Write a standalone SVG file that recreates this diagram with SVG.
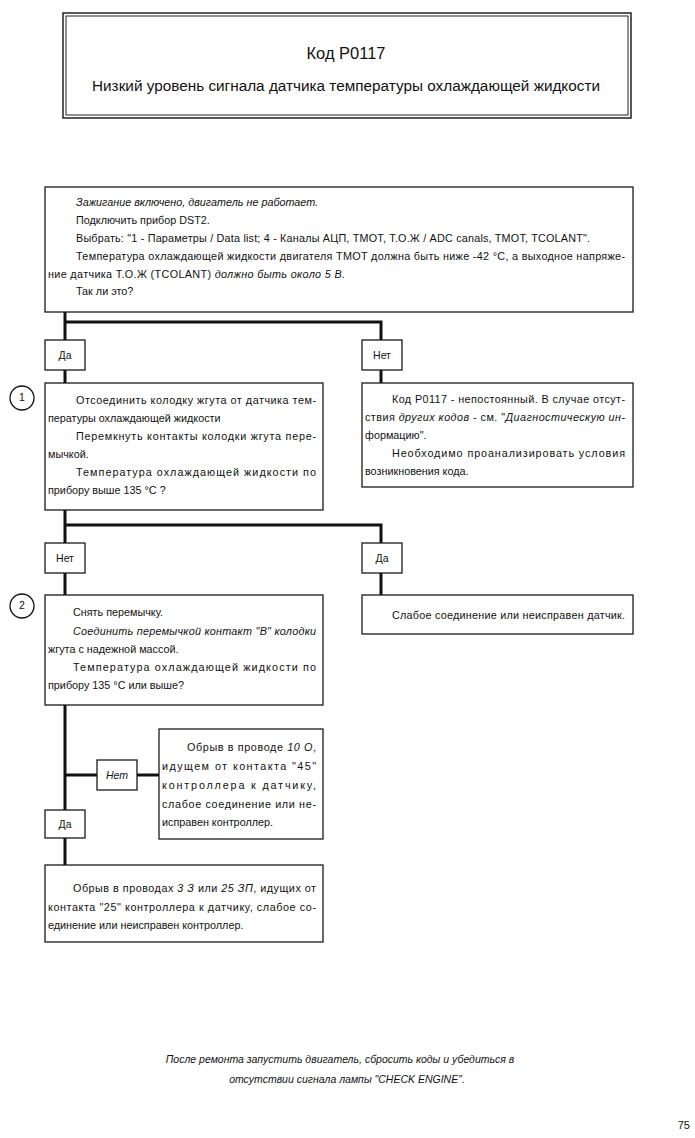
<svg xmlns="http://www.w3.org/2000/svg" width="695" height="1138" viewBox="0 0 695 1138">
<style>
.box{fill:#fff;stroke:#1a1a1a;stroke-width:1.3}
.conn{stroke:#111;stroke-width:3;fill:none}
.t{font-family:'Liberation Sans',Arial,sans-serif;font-size:10.8px;fill:#111}
.i{font-style:italic}
.lbl{font-family:'Liberation Sans',Arial,sans-serif;font-size:10.5px;fill:#111;text-anchor:middle}
.circ{fill:#fff;stroke:#111;stroke-width:1.3}
</style>
<rect width="695" height="1138" fill="#fff"/>
<g id="title">
<rect x="63" y="13" width="568" height="105" fill="#fff" stroke="#222" stroke-width="1.5"/>
<rect x="66" y="16" width="562" height="99" fill="none" stroke="#222" stroke-width="1"/>
<text x="346" y="59" text-anchor="middle" font-family="'Liberation Sans',Arial,sans-serif" font-size="17" fill="#111" textLength="79" lengthAdjust="spacingAndGlyphs">Код P0117</text>
<text x="346" y="91" text-anchor="middle" font-family="'Liberation Sans',Arial,sans-serif" font-size="14" fill="#111" textLength="508" lengthAdjust="spacingAndGlyphs">Низкий уровень сигнала датчика температуры охлаждающей жидкости</text>
</g>
<g id="connectors">
<polyline class="conn" points="65,312 65,340"/>
<polyline class="conn" points="65,322 381,322 381,340"/>
<polyline class="conn" points="65,370 65,383"/>
<polyline class="conn" points="381,370 381,383"/>
<polyline class="conn" points="65,510 65,543"/>
<polyline class="conn" points="65,525 381,525 381,543"/>
<polyline class="conn" points="65,573 65,595"/>
<polyline class="conn" points="381,573 381,595"/>
<polyline class="conn" points="65,705 65,810"/>
<polyline class="conn" points="65,775 97,775"/>
<polyline class="conn" points="137,775 159,775"/>
<polyline class="conn" points="65,838 65,865"/>
</g>
<g id="start">
<rect class="box" x="45" y="187" width="588" height="125"/>
<text class="t i" x="76" y="206">Зажигание включено, двигатель не работает.</text>
<text class="t" x="76" y="224">Подключить прибор DST2.</text>
<text class="t" x="76" y="242" textLength="514" lengthAdjust="spacing">Выбрать: "1 - Параметры / Data list; 4 - Каналы АЦП, TMOT, Т.О.Ж / ADC canals, TMOT, TCOLANT".</text>
<text class="t" x="76" y="260" textLength="549" lengthAdjust="spacing">Температура охлаждающей жидкости двигателя TMOT должна быть ниже -42 °С, а выходное напряже-</text>
<text class="t" x="48" y="278" textLength="297" lengthAdjust="spacing">ние датчика Т.О.Ж (TCOLANT) <tspan class="i">должно быть около 5 В.</tspan></text>
<text class="t" x="76" y="295">Так ли это?</text>
</g>
<g id="yes1"><rect class="box" x="45" y="340" width="40" height="30"/><text class="lbl" x="65" y="359">Да</text></g>
<g id="no1"><rect class="box" x="362" y="340" width="40" height="30"/><text class="lbl" x="382" y="359">Нет</text></g>
<g id="step1">
<circle class="circ" cx="22" cy="398" r="12"/>
<text class="lbl" x="22" y="401" font-size="8">1</text>
<rect class="box" x="45" y="383" width="278" height="127"/>
<text class="t" x="76" y="404" textLength="240" lengthAdjust="spacing">Отсоединить колодку жгута от датчика тем-</text>
<text class="t" x="48" y="422">пературы охлаждающей жидкости</text>
<text class="t" x="76" y="440" textLength="240" lengthAdjust="spacing">Перемкнуть контакты колодки жгута пере-</text>
<text class="t" x="48" y="458">мычкой.</text>
<text class="t" x="76" y="476" textLength="240" lengthAdjust="spacing">Температура охлаждающей жидкости по</text>
<text class="t" x="48" y="494">прибору выше 135 °С ?</text>
</g>
<g id="intermittent">
<rect class="box" x="362" y="383" width="271" height="104"/>
<text class="t" x="392" y="403" textLength="233" lengthAdjust="spacing">Код P0117 - непостоянный. В случае отсут-</text>
<text class="t" x="365" y="421" textLength="260" lengthAdjust="spacing">ствия <tspan class="i">других кодов</tspan> - см. "<tspan class="i">Диагностическую ин-</tspan></text>
<text class="t" x="365" y="439">формацию".</text>
<text class="t" x="392" y="457" textLength="233" lengthAdjust="spacing">Необходимо проанализировать условия</text>
<text class="t" x="365" y="475">возникновения кода.</text>
</g>
<g id="no2"><rect class="box" x="45" y="543" width="40" height="30"/><text class="lbl" x="65" y="562">Нет</text></g>
<g id="yes2"><rect class="box" x="362" y="543" width="40" height="30"/><text class="lbl" x="382" y="562">Да</text></g>
<g id="step2">
<circle class="circ" cx="22" cy="606" r="12"/>
<text class="lbl" x="22" y="609" font-size="8">2</text>
<rect class="box" x="45" y="595" width="278" height="110"/>
<text class="t" x="73" y="616">Снять перемычку.</text>
<text class="t i" x="73" y="635" textLength="243" lengthAdjust="spacing">Соединить перемычкой контакт "В" колодки</text>
<text class="t" x="48" y="653">жгута с надежной массой.</text>
<text class="t" x="73" y="671" textLength="243" lengthAdjust="spacing">Температура охлаждающей жидкости по</text>
<text class="t" x="48" y="689">прибору 135 °С или выше?</text>
</g>
<g id="sensor">
<rect class="box" x="362" y="595" width="271" height="39"/>
<text class="t" x="392" y="619" textLength="233" lengthAdjust="spacing">Слабое соединение или неисправен датчик.</text>
</g>
<g id="no3"><rect class="box" x="97" y="760" width="40" height="30"/><text class="lbl i" x="117" y="779">Нет</text></g>
<g id="wire10">
<rect class="box" x="159" y="729" width="164" height="110"/>
<text class="t" x="187" y="751" textLength="129" lengthAdjust="spacing">Обрыв в проводе <tspan class="i">10 О</tspan>,</text>
<text class="t" x="162" y="770" textLength="154" lengthAdjust="spacing">идущем от контакта "45"</text>
<text class="t" x="162" y="789" textLength="154" lengthAdjust="spacing">контроллера к датчику,</text>
<text class="t" x="162" y="808" textLength="154" lengthAdjust="spacing">слабое соединение или не-</text>
<text class="t" x="162" y="826">исправен контроллер.</text>
</g>
<g id="yes3"><rect class="box" x="45" y="810" width="40" height="28"/><text class="lbl" x="65" y="828">Да</text></g>
<g id="wire3">
<rect class="box" x="45" y="865" width="278" height="77"/>
<text class="t" x="73" y="892" textLength="243" lengthAdjust="spacing">Обрыв в проводах <tspan class="i">3 З</tspan> или <tspan class="i">25 ЗП</tspan>, идущих от</text>
<text class="t" x="48" y="911" textLength="268" lengthAdjust="spacing">контакта "25" контроллера к датчику, слабое со-</text>
<text class="t" x="48" y="929">единение или неисправен контроллер.</text>
</g>
<g id="footer">
<text class="lbl i" x="340" y="1063" font-size="10.8">После ремонта запустить двигатель, сбросить коды и убедиться в</text>
<text class="lbl i" x="347" y="1083" font-size="10.8">отсутствии сигнала лампы "CHECK ENGINE".</text>
<text x="690" y="1129" text-anchor="end" font-family="'Liberation Sans',Arial,sans-serif" font-size="11" fill="#111">75</text>
</g>
</svg>
